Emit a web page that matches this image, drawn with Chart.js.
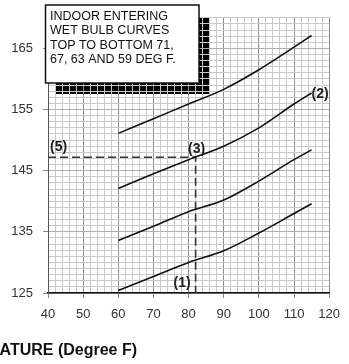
<!DOCTYPE html>
<html>
<head>
<meta charset="utf-8">
<script src="https://cdn.jsdelivr.net/npm/chart.js@4.4.1/dist/chart.umd.min.js"></script>
<style>
  html, body { margin: 0; padding: 0; background: #fff; }
  #wrap { width: 349px; height: 364px; position: relative; }
</style>
</head>
<body>
<div id="wrap"><canvas id="chart" width="349" height="364"></canvas></div>
<script>
// values
const xTemps = [60, 70, 80, 90, 100, 110, 115];
const curve71 = [151.1, 153.5, 155.9, 158.3, 161.5, 165.2, 167.1];
const curve67 = [142.1, 144.5, 146.8, 149.0, 152.0, 155.9, 157.7];
const curve63 = [133.6, 135.9, 138.3, 140.2, 143.3, 146.8, 148.4];
const curve59 = [125.4, 127.7, 130.0, 131.9, 134.8, 138.0, 139.6];
const xTickLabels = [40, 50, 60, 70, 80, 90, 100, 110, 120];
const yTickLabels = [125, 135, 145, 155, 165];
const readTemp = 82;
const readValue = 147.2;
const noteLines = ["INDOOR ENTERING", "WET BULB CURVES", "TOP TO BOTTOM 71,", "67, 63 AND 59 DEG F."];
const xTitle = "OUTDOOR TEMPERATURE (Degree F)";

function toPoints(xs, ys) {
    return xs.map((x, i) => ({ x: x, y: ys[i] }));
}

const curveStyle = {
    borderColor: "#111",
    borderWidth: 1.6,
    pointRadius: 0,
    tension: 0.4,
    cubicInterpolationMode: "monotone",
    fill: false
};

// black shadow of the note box, drawn before the grid so the grid shows on top
const shadowPlugin = {
    id: "shadow",
    beforeDraw(chart) {
        const ctx = chart.ctx;
        const top = chart.chartArea.top;
        ctx.save();
        ctx.fillStyle = "#000";
        ctx.fillRect(55, top, 154, 94 - top);
        ctx.restore();
    }
};

const overlayPlugin = {
    id: "overlay",
    afterDraw(chart) {
        const ctx = chart.ctx;
        const xs = chart.scales.x;
        const ys = chart.scales.y;
        ctx.save();

        // note box
        ctx.fillStyle = "#fff";
        ctx.fillRect(45.5, 5, 153.5, 78);
        ctx.strokeStyle = "#111";
        ctx.lineWidth = 1.5;
        ctx.strokeRect(45.5, 5, 153.5, 78);
        ctx.fillStyle = "#111";
        ctx.font = "12.5px 'Liberation Sans', Arial, sans-serif";
        ctx.textAlign = "left";
        ctx.textBaseline = "alphabetic";
        noteLines.forEach((line, i) => {
            ctx.fillText(line, 50, 20 + i * 14.4);
        });

        // point labels
        ctx.font = "bold 14px 'Liberation Sans', Arial, sans-serif";
        ctx.fillStyle = "#222";
        ctx.textBaseline = "middle";
        const px = xs.getPixelForValue(readTemp);
        const py = ys.getPixelForValue(readValue);
        ctx.textAlign = "left";
        ctx.fillText("(5)", xs.left + 2, py - 10);
        ctx.textAlign = "center";
        ctx.fillText("(3)", px + 1, py - 8.5);
        ctx.textAlign = "right";
        ctx.fillText("(1)", px - 5, ys.bottom - 9.5);
        const last = xTemps.length - 1;
        ctx.textAlign = "left";
        ctx.fillText("(2)", xs.getPixelForValue(xTemps[last]), ys.getPixelForValue(curve67[last]) + 1);

        // x axis title (runs off the left edge, as in the picture)
        ctx.font = "bold 16px 'Liberation Sans', Arial, sans-serif";
        ctx.textAlign = "right";
        ctx.fillStyle = "#111";
        ctx.fillText(xTitle, 137, 351);
        ctx.restore();
    }
};

new Chart(document.getElementById("chart"), {
    type: "line",
    data: {
        datasets: [
            { label: "71", data: toPoints(xTemps, curve71), ...curveStyle },
            { label: "67", data: toPoints(xTemps, curve67), ...curveStyle },
            { label: "63", data: toPoints(xTemps, curve63), ...curveStyle },
            { label: "59", data: toPoints(xTemps, curve59), ...curveStyle },
            {
                label: "reading",
                data: [
                    { x: 40, y: readValue },
                    { x: readTemp, y: readValue },
                    { x: readTemp, y: 125 }
                ],
                borderColor: "#333",
                borderWidth: 1.6,
                borderDash: [8, 4],
                pointRadius: 0,
                tension: 0,
                fill: false
            }
        ]
    },
    options: {
        responsive: false,
        animation: false,
        layout: { padding: { top: 14, right: 12.5, left: 0, bottom: 0 } },
        plugins: {
            legend: { display: false },
            tooltip: { enabled: false }
        },
        scales: {
            x: {
                type: "linear",
                min: 40,
                max: 120,
                afterFit: (scale) => { scale.height = 71; },
                ticks: {
                    stepSize: 2,
                    autoSkip: false,
                    maxRotation: 0,
                    padding: 9,
                    color: "#333",
                    font: { family: "'Liberation Sans', Arial, sans-serif", size: 13 },
                    callback: (v) => xTickLabels.includes(v) ? String(v) : ""
                },
                grid: {
                    color: (c) => c.tick && c.tick.value % 10 === 0 ? "#8c8c8c" : "#c9c9c9",
                    tickColor: (c) => c.tick && c.tick.value % 10 === 0 ? "#888" : "rgba(0,0,0,0)",
                    tickLength: 5,
                    lineWidth: 1
                },
                border: { color: "#111", width: 1.5 }
            },
            y: {
                min: 125,
                max: 170,
                afterFit: (scale) => { scale.width = 48; },
                ticks: {
                    stepSize: 1,
                    autoSkip: false,
                    padding: 10,
                    color: "#333",
                    font: { family: "'Liberation Sans', Arial, sans-serif", size: 13 },
                    callback: (v) => yTickLabels.includes(v) ? String(v) : ""
                },
                grid: {
                    color: (c) => c.tick && yTickLabels.includes(c.tick.value) ? "#b0b0b0" : "#c9c9c9",
                    tickColor: (c) => c.tick && yTickLabels.includes(c.tick.value) ? "#888" : "rgba(0,0,0,0)",
                    tickLength: 5,
                    lineWidth: 1
                },
                border: { color: "#555", width: 1 }
            }
        }
    },
    plugins: [shadowPlugin, overlayPlugin]
});
</script>
</body>
</html>
